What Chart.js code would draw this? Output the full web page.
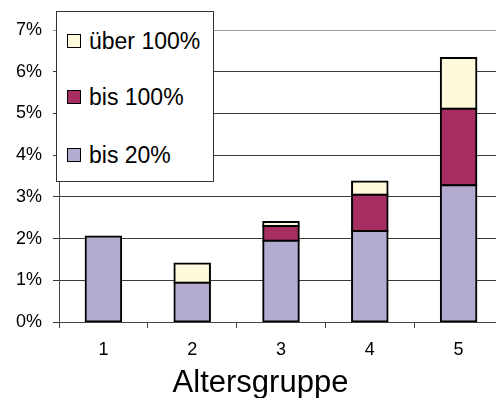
<!DOCTYPE html>
<html>
<head>
<meta charset="utf-8">
<script src="https://cdn.jsdelivr.net/npm/chart.js@4/dist/chart.umd.min.js"></script>
<style>
  html, body { margin: 0; padding: 0; overflow: hidden; background: #fff; }
  #wrap { position: relative; width: 506px; height: 398px; }
  #legend {
    position: absolute; left: 56px; top: 11px; width: 156px; height: 169px;
    border: 1px solid #333; background: #fff;
    font-family: "Liberation Sans", Arial, sans-serif; font-size: 23px; color: #000;
  }
  .item { position: absolute; left: 10px; height: 24px; line-height: 24px; white-space: nowrap; }
  .sw { display: inline-block; width: 12px; height: 12px; border: 1px solid #000; vertical-align: middle; margin-right: 8px; position: relative; top: -2px; }
  #xtitle {
    position: absolute; left: 160px; width: 201px; top: 366px; line-height: 31px;
    text-align: center; font-family: "Liberation Sans", Arial, sans-serif; font-size: 31px; color: #000;
  }
</style>
</head>
<body>
<div id="wrap">
  <canvas id="c" width="506" height="398"></canvas>
  <div id="legend"></div>
  <div id="xtitle">Altersgruppe</div>
</div>
<script>
// Age groups and shares (in %) per overdraft level
const categories = ['1', '2', '3', '4', '5'];
const bis20 = [2.05, 0.94, 1.95, 2.18, 3.28];
const bis100 = [0, 0, 0.35, 0.87, 1.83];
const ueber100 = [0, 0.46, 0.10, 0.32, 1.22];
const seriesNames = ['bis 20%', 'bis 100%', 'über 100%'];
const seriesColors = ['#B3ABD0', '#A72E61', '#FFFADC'];
const yTicks = [0, 1, 2, 3, 4, 5, 6, 7];

const seriesValues = [bis20, bis100, ueber100];
// Outline centred on each segment edge: grow the box by 1px, draw 2px inside it
const datasets = seriesValues.map((vals, i) => ({
  label: seriesNames[i],
  data: vals,
  backgroundColor: seriesColors[i],
  borderColor: '#000',
  borderWidth: ctx => (ctx.raw ? 2 : 0),
  borderSkipped: false,
  inflateAmount: ctx => (ctx.raw ? 1 : 0),
  barPercentage: 0.4,
  categoryPercentage: 1.0
}));

const tickFont = { family: '"Liberation Sans", Arial, sans-serif', size: 18 };

new Chart(document.getElementById('c'), {
  type: 'bar',
  data: { labels: categories, datasets },
  options: {
    responsive: false,
    animation: false,
    devicePixelRatio: 1,
    layout: { padding: { top: 30, right: 3, left: 0, bottom: 0 } },
    plugins: { legend: { display: false }, tooltip: { enabled: false } },
    scales: {
      x: {
        stacked: true,
        offset: true,
        grid: { display: true, drawOnChartArea: false, drawTicks: true, tickLength: 6, offset: true, color: '#444' },
        border: { display: true, color: '#444', width: 1 },
        ticks: { color: '#000', font: tickFont, padding: 11 },
        afterFit: s => { s.height = 76; }
      },
      y: {
        stacked: true,
        min: 0,
        max: 7,
        afterBuildTicks: s => { s.ticks = yTicks.map(v => ({ value: v })); },
        grid: {
          color: ctx => (ctx.tick && ctx.tick.value === 7 ? '#9a9a9a' : '#3a3a3a'),
          tickLength: 6,
          drawTicks: true
        },
        border: { display: true, color: '#444', width: 1 },
        ticks: { color: '#000', font: tickFont, padding: 11, callback: v => v + '%' },
        afterFit: s => { s.width = 59; }
      }
    }
  }
});

// Legend built from the series, top-most segment listed first
const legend = document.getElementById('legend');
const rowsY = [17, 73, 131];
[2, 1, 0].forEach((si, row) => {
  const d = document.createElement('div');
  d.className = 'item';
  d.style.top = rowsY[row] + 'px';
  const sw = document.createElement('span');
  sw.className = 'sw';
  sw.style.background = seriesColors[si];
  d.appendChild(sw);
  d.appendChild(document.createTextNode(seriesNames[si]));
  legend.appendChild(d);
});
</script>
</body>
</html>
